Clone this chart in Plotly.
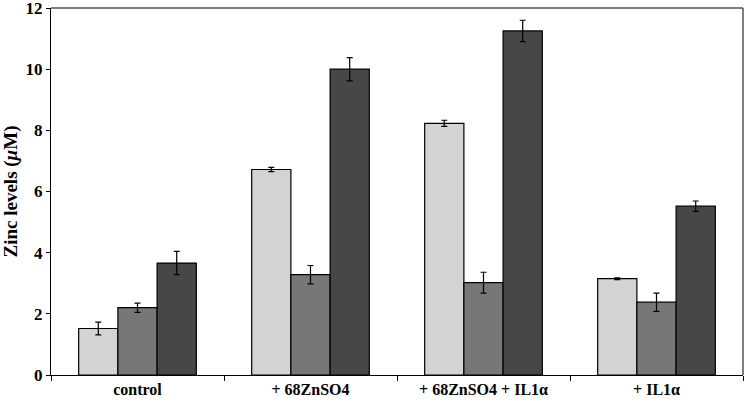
import plotly.graph_objects as go

categories = ["control", "+ 68ZnSO4", "+ 68ZnSO4 + IL1α", "+ IL1α"]
series_names = ["Series 1", "Series 2", "Series 3"]
values_light = [1.52, 6.72, 8.23, 3.15]
err_light = [0.21, 0.07, 0.10, 0.03]
values_mid = [2.20, 3.28, 3.02, 2.38]
err_mid = [0.15, 0.30, 0.34, 0.30]
values_dark = [3.66, 10.00, 11.25, 5.52]
err_dark = [0.38, 0.38, 0.35, 0.17]
y_ticks = [0, 2, 4, 6, 8, 10, 12]

colors = ["#d3d3d3", "#777777", "#474747"]
vals = [values_light, values_mid, values_dark]
errs = [err_light, err_mid, err_dark]

fig = go.Figure()
for name, v, e, c in zip(series_names, vals, errs, colors):
    fig.add_trace(go.Bar(
        x=categories, y=v, name=name,
        marker=dict(color=c, line=dict(color="black", width=1.2)),
        error_y=dict(type="data", array=e, visible=True, color="black", thickness=1.2, width=3),
    ))

font_family = "Liberation Serif, Times New Roman, serif"
fig.update_layout(
    width=745, height=405,
    margin=dict(l=51, r=2, t=8, b=30, autoexpand=False),
    plot_bgcolor="white", paper_bgcolor="white",
    barmode="group", bargap=0.32, bargroupgap=0,
    showlegend=False,
    font=dict(family=font_family, color="black"),
    xaxis=dict(
        type="category", showgrid=False, showline=True, linecolor="black", linewidth=1.2,
        ticks="outside", tickson="boundaries", ticklen=5, tickcolor="black",
        tickfont=dict(size=16, family=font_family, weight="bold"),
        zeroline=False, automargin=False,
    ),
    yaxis=dict(
        range=[0, 12], tickvals=y_ticks, ticktext=[str(t) for t in y_ticks],
        showgrid=False, showline=True, linecolor="black", linewidth=1.2,
        ticks="outside", ticklen=4, tickcolor="black",
        tickfont=dict(size=17, family=font_family, weight="bold"),
        ticklabeloverflow="allow",
        title=dict(text="<b>Zinc levels (<i>μ</i>M)</b>", font=dict(size=19, family=font_family), standoff=8),
        zeroline=False, automargin=False,
    ),
    shapes=[
        dict(type="line", xref="paper", yref="paper", x0=0, x1=1, y0=1, y1=1,
             line=dict(color="#555555", width=1.5)),
        dict(type="line", xref="paper", yref="paper", x0=1, x1=1, y0=0, y1=1,
             line=dict(color="#555555", width=1.5)),
    ],
)
fig.write_html("out.html", config={"displayModeBar": False},
               post_script="document.body.style.margin='0';document.body.style.overflow='hidden';")
